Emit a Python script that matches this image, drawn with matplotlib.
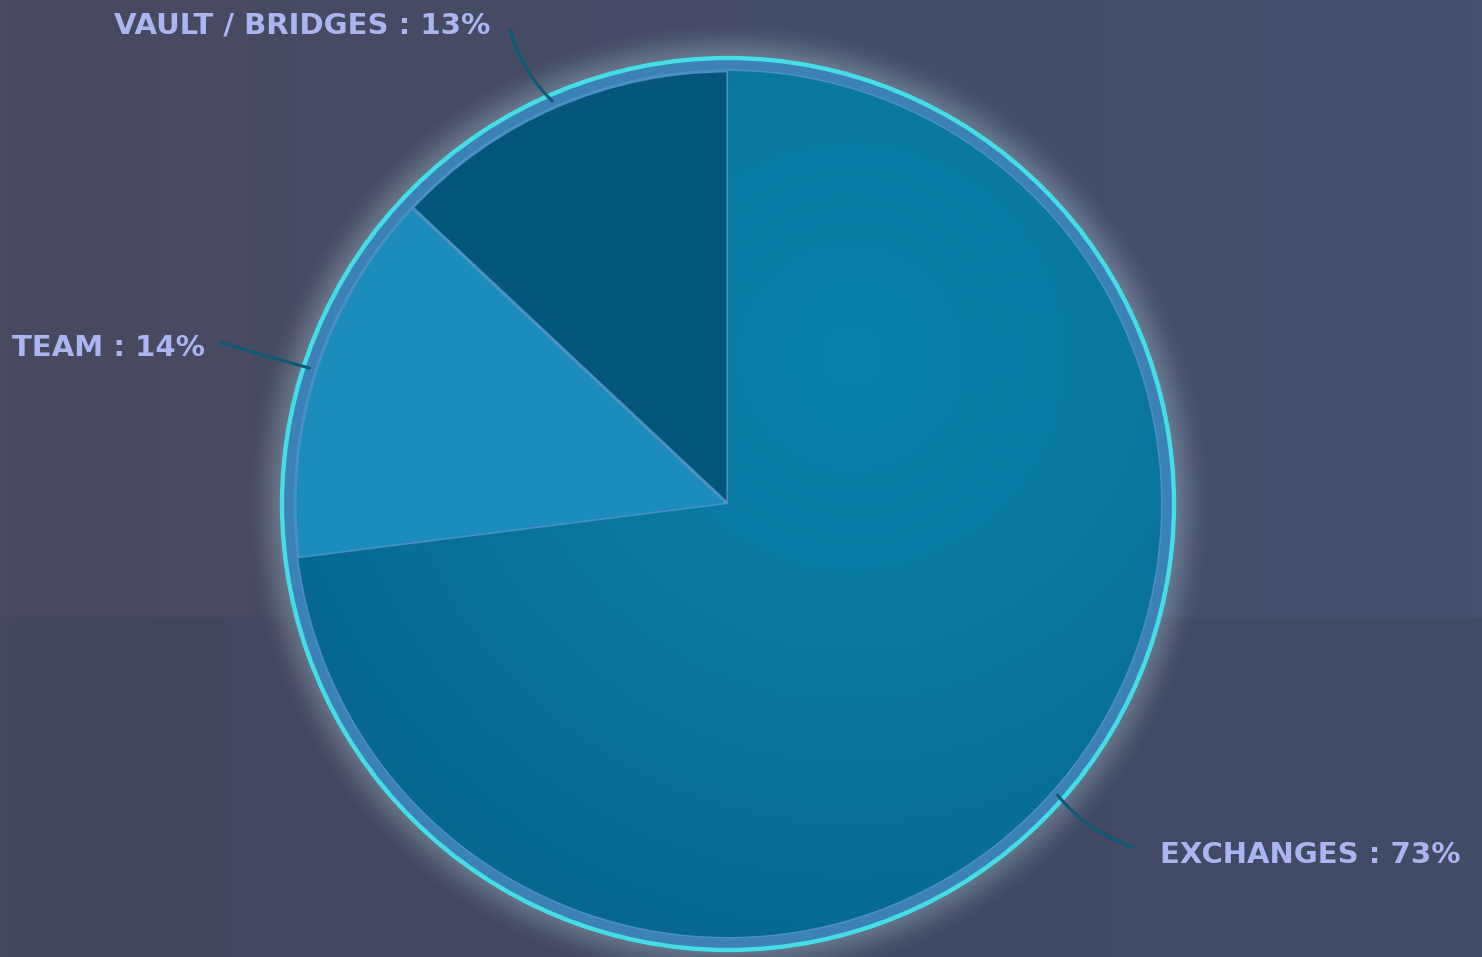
import numpy as np
import matplotlib
matplotlib.use("Agg")
import matplotlib.pyplot as plt
from matplotlib.patches import Circle
from matplotlib.colors import LinearSegmentedColormap

# ---- data ----
labels = ["EXCHANGES", "TEAM", "VAULT / BRIDGES"]
shares = [73, 14, 13]
colors = ["#0a739c", "#1b8cbc", "#04577a"]

W, H = 1482, 957
fig = plt.figure(figsize=(W / 100, H / 100), dpi=100)
ax = fig.add_axes([0, 0, 1, 1])

# background gradient
bg = LinearSegmentedColormap.from_list("bg", ["#484a5e", "#454c68", "#47506f"])
gx = np.linspace(0, 1, 300)[None, :].repeat(2, axis=0)
ax.imshow(gx, cmap=bg, extent=[0, W, 0, H], aspect="auto", zorder=0, origin="lower")
ax.fill_between([0, W], 0, 340, color="#3b4159", alpha=0.35, lw=0, zorder=0.5)

cx, cy = 728, 453
R = 433
Rring = 446

# glow outside ring
for i in range(36):
    ax.add_patch(Circle((cx, cy), Rring + 2 + i * 1.0, fill=False,
                        ec="#c8eef2", lw=2.0, alpha=0.11 * (1 - i / 36) ** 1.6, zorder=1))
# band between pie and ring
ax.add_patch(Circle((cx, cy), Rring, fc="#3c82b6", ec="none", zorder=1.5))
ax.add_patch(Circle((cx, cy), Rring, fill=False, ec="#45dde6", lw=3.2, zorder=4))

wedges, _ = ax.pie(shares, colors=colors, startangle=90, counterclock=False,
                   center=(cx, cy), radius=R, frame=False,
                   wedgeprops=dict(edgecolor="#4a90c4", linewidth=2.2))
for w in wedges:
    w.set_zorder(2)

# radial gradient on the big slice
gcm = LinearSegmentedColormap.from_list("g", ["#0b82aa", "#09769f", "#066690"])
yy, xx = np.mgrid[0:H:2, 0:W:2]
dist = np.hypot(xx - 850, yy - 600) / 650.0
img = ax.imshow(np.clip(dist, 0, 1), cmap=gcm, extent=[0, W, 0, H], origin="lower",
                aspect="auto", zorder=2.5, vmin=0, vmax=1)
img.set_clip_path(wedges[0])

ax.set_xlim(0, W)
ax.set_ylim(0, H)
ax.axis("off")

# labels with leader lines
total = sum(shares)
start = 90.0
label_pos = [(1160, H - 855, "left"), (12, H - 348, "left"), (490, H - 26, "right")]
line_end = [(1135, H - 848), (218, H - 342), (510, H - 28)]
rads = [-0.15, 0.0, 0.15]
for i, (lab, s) in enumerate(zip(labels, shares)):
    theta1 = start - 360.0 * s / total
    mid = np.deg2rad((start + theta1) / 2)
    start = theta1
    px = cx + (R + 4) * np.cos(mid)
    py = cy + (R + 4) * np.sin(mid)
    tx, ty, ha = label_pos[i]
    ax.text(tx, ty, f"{lab} : {s}%", ha=ha, va="center", color="#aab5f2",
            fontsize=21, fontweight="bold", family="DejaVu Sans", zorder=6)
    ax.annotate("", xy=(px, py), xytext=line_end[i],
                arrowprops=dict(arrowstyle="-", color="#0c5a74", lw=2.2,
                                connectionstyle=f"arc3,rad={rads[i]}"), zorder=5)

fig.savefig("out.png", dpi=100)
